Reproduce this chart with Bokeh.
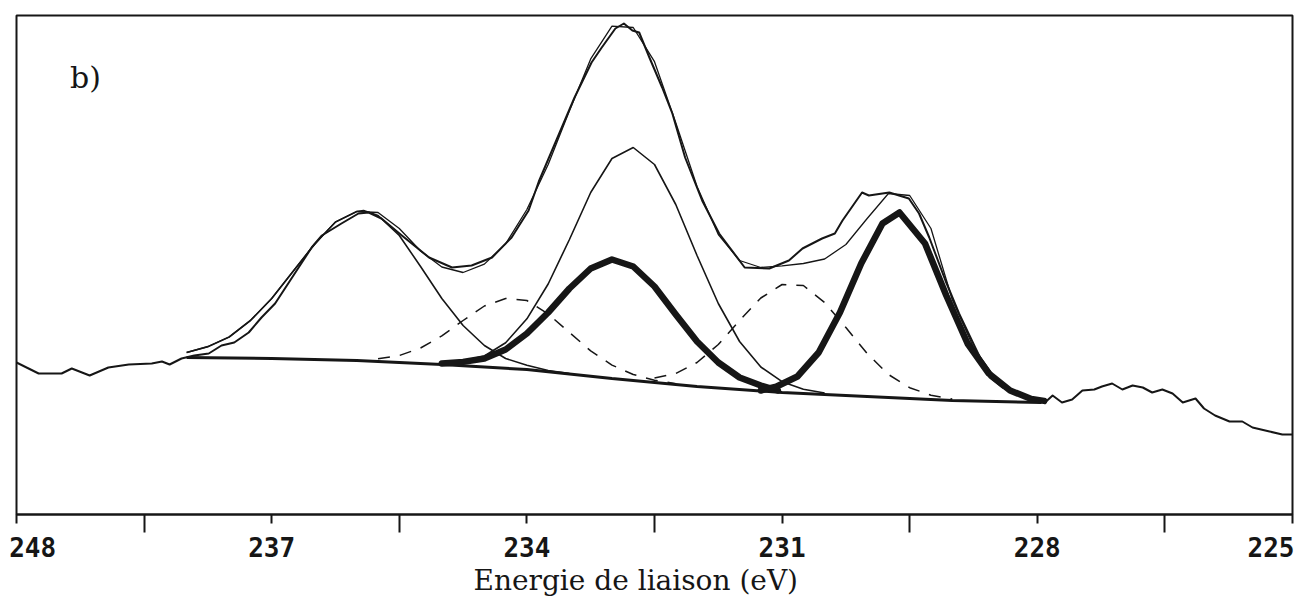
from bokeh.plotting import figure
from bokeh.models import Range1d, FixedTicker, Label, LinearAxis, Title
from bokeh.embed import file_html
from bokeh.resources import INLINE

# ---------------- data (binding energy in eV, intensity in arbitrary units) ----------------
tick_values = [240, 237, 234, 231, 228, 225]
tick_labels = ["248", "237", "234", "231", "228", "225"]
# where each tick label is centred (the two end labels sit inward, as in the original)
tick_label_positions = [239.81, 237, 234, 231, 228, 225.21]
minor_tick_values = [238.5, 235.5, 232.5, 229.5, 226.5]
x_title = "Energie de liaison (eV)"

# measured spectrum
spec_x = [240.0, 239.74, 239.47, 239.35, 239.14, 238.92, 238.68, 238.41, 238.29, 238.2,
          238.06, 237.91, 237.74, 237.59, 237.44, 237.27, 237.12, 236.96, 236.76, 236.53,
          236.41, 236.18, 235.98, 235.86, 235.71, 235.47, 235.15, 234.88, 234.65, 234.41,
          234.18, 233.98, 233.86, 233.62, 233.44, 233.24, 233.12, 232.96, 232.86, 232.76,
          232.68, 232.56, 232.41, 232.29, 232.14, 231.94, 231.74, 231.44, 231.15, 230.92,
          230.76, 230.53, 230.38, 230.29, 230.06, 229.98, 229.74, 229.51, 229.39, 229.27,
          229.08, 228.92, 228.73, 228.56, 228.41, 228.21, 228.02, 227.91, 227.82, 227.71,
          227.59, 227.47, 227.33, 227.24, 227.12, 227.0, 226.88, 226.76, 226.65, 226.53,
          226.41, 226.29, 226.14, 226.04, 225.91, 225.74, 225.59, 225.47, 225.27, 225.12, 225.0]
spec_y = [151, 140, 140, 145, 138, 146, 149, 150, 152, 149,
          155, 158, 160, 168, 171, 181, 196, 210, 236, 266,
          278, 290, 300, 301, 295, 278, 256, 246, 248, 256,
          276, 303, 332, 380, 416, 451, 466, 485, 490, 483,
          481, 456, 426, 400, 356, 313, 280, 246, 245, 253,
          265, 275, 280, 293, 321, 318, 321, 315, 300, 276,
          233, 200, 166, 136, 126, 120, 113, 111, 118, 111,
          114, 123, 124, 127, 130, 124, 128, 126, 121, 124,
          120, 111, 115, 105, 98, 92, 92, 86, 82, 79, 79]

# fit envelope
env_x = [238.0, 237.75, 237.5, 237.25, 237.0, 236.75, 236.5, 236.25, 236.0, 235.75,
         235.5, 235.25, 235.0, 234.75, 234.5, 234.25, 234.0, 233.75, 233.5, 233.25,
         233.0, 232.75, 232.5, 232.25, 232.0, 231.75, 231.5, 231.25, 231.0, 230.75,
         230.5, 230.25, 230.0, 229.75, 229.5, 229.25, 229.0, 228.75, 228.5, 228.25, 228.0]
env_y = [161, 167, 176.5, 193, 215, 242, 269, 291.5, 302, 301,
         285, 262.5, 246.5, 241, 249.4, 269.7, 304, 349, 402.7, 454.6,
         487.4, 486, 451.8, 390.8, 327, 279, 253, 246, 247.6, 250,
         254.5, 269, 295, 320, 318, 285, 214, 166, 136, 121, 114]

# background (Shirley)
base_x = [238.0, 237.0, 236.0, 235.0, 234.0, 233.0, 232.0, 231.0, 230.0, 229.0, 227.95]
base_y = [156, 155, 153, 149, 144, 135, 127, 121, 117, 113, 111]

# component A (thin)
a_x = [238.0, 237.75, 237.5, 237.25, 237.0, 236.75, 236.5, 236.25, 236.0, 235.92,
       235.75, 235.5, 235.25, 235.0, 234.75, 234.5, 234.25, 234.0, 233.75, 233.5]
a_y = [161, 166.7, 176.5, 193, 215, 242, 269, 291.5, 302, 303,
       298, 278, 247, 215, 188, 168, 155, 148.3, 143, 140]

# component B (dashed)
b_x = [235.75, 235.5, 235.25, 235.0, 234.75, 234.5, 234.25, 234.0, 233.75, 233.5,
       233.25, 233.0, 232.75, 232.5, 232.25]
b_y = [154.8, 158, 165.5, 177.6, 193, 207.5, 215, 213, 199.5, 181,
       162.6, 148.4, 139, 133.3, 129.8]

# component C (thick)
c_x = [235.0, 234.75, 234.5, 234.25, 234.0, 233.75, 233.5, 233.25, 233.0, 232.75,
       232.5, 232.25, 232.0, 231.75, 231.5, 231.25, 231.05]
c_y = [150, 151.6, 155, 164, 180, 201, 225, 245, 254, 247,
       227, 199, 172, 151, 136, 128, 123]

# component D (thin)
d_x = [235.0, 234.75, 234.5, 234.25, 234.0, 233.75, 233.5, 233.25, 233.0, 232.75,
       232.5, 232.25, 232.0, 231.75, 231.5, 231.25, 231.0, 230.75, 230.5]
d_y = [150.6, 152.6, 157.5, 170.7, 194.7, 229.5, 274, 321, 355, 366,
       349, 309, 258, 210, 172, 146.5, 131.8, 124.2, 120.5]

# component E (dashed)
e_x = [232.5, 232.25, 232.0, 231.75, 231.5, 231.25, 231.0, 230.75, 230.5, 230.25,
       230.0, 229.75, 229.5, 229.25, 229.0]
e_y = [135.5, 140, 151, 169, 193, 215.5, 229, 228, 211, 186,
       160, 139, 125.8, 118.3, 114.5]

# component F (thick)
f_x = [231.25, 231.07, 230.82, 230.57, 230.32, 230.07, 229.82, 229.62, 229.32,
       229.07, 228.82, 228.57, 228.32, 228.07, 227.92]
f_y = [123, 126.8, 137, 161, 201, 250, 290, 301, 270,
       218, 170, 140, 123, 114.5, 112.6]

# ---------------- figure ----------------
INK = "#161616"
p = figure(width=1294, height=607, output_backend="svg", toolbar_location=None,
           x_range=Range1d(240, 225), y_range=Range1d(-1, 498),
           min_border_left=16, min_border_right=2, min_border_top=15, min_border_bottom=93)
p.yaxis.visible = False
p.grid.visible = False
p.outline_line_color = INK
p.outline_line_width = 2
p.background_fill_color = "white"
p.border_fill_color = "white"

# axis 1: line and ticks only
ax = p.xaxis[0]
ax.ticker = FixedTicker(ticks=tick_values, minor_ticks=minor_tick_values)
ax.major_label_overrides = {t: "" for t in tick_values}
ax.major_label_text_font_size = "1px"
ax.major_label_standoff = 0
ax.axis_line_color = INK
ax.axis_line_width = 2
ax.major_tick_line_color = INK
ax.minor_tick_line_color = INK
ax.major_tick_line_width = 2
ax.minor_tick_line_width = 2
ax.major_tick_in = 0
ax.major_tick_out = 9
ax.minor_tick_in = 0
ax.minor_tick_out = 18

# axis 2: tick labels
ax2 = LinearAxis(ticker=FixedTicker(ticks=tick_label_positions, minor_ticks=[]))
ax2.major_label_overrides = {pos: lab for pos, lab in zip(tick_label_positions, tick_labels)}
ax2.axis_line_alpha = 0
ax2.major_tick_line_alpha = 0
ax2.minor_tick_line_alpha = 0
ax2.major_tick_in = 0
ax2.major_tick_out = 0
ax2.minor_tick_in = 0
ax2.minor_tick_out = 0
ax2.major_label_text_font = "DejaVu Sans Mono"
ax2.major_label_text_font_style = "bold"
ax2.major_label_text_font_size = "26px"
ax2.major_label_text_color = INK
ax2.major_label_standoff = 4
p.add_layout(ax2, "below")

# axis title, slightly left of centre as in the original
p.add_layout(Title(text=x_title, align="left", offset=457, standoff=4,
                   text_font="DejaVu Serif", text_font_style="normal",
                   text_font_size="28px", text_color=INK), "below")

# curves
p.line(base_x, base_y, line_color=INK, line_width=3)
p.line(b_x, b_y, line_color=INK, line_width=1.5, line_dash="12 10")
p.line(e_x, e_y, line_color=INK, line_width=1.5, line_dash="12 10")
p.line(a_x, a_y, line_color=INK, line_width=1.6)
p.line(d_x, d_y, line_color=INK, line_width=1.6)
p.line(c_x, c_y, line_color=INK, line_width=6.5, line_join="round", line_cap="round")
p.line(f_x, f_y, line_color=INK, line_width=6.5, line_join="round", line_cap="round")
p.line(env_x, env_y, line_color=INK, line_width=1.3)
p.line(spec_x, spec_y, line_color=INK, line_width=2, line_join="round")

p.add_layout(Label(x=239.37, y=436, text="b)", text_align="left", text_baseline="alphabetic",
                   text_font="DejaVu Serif", text_font_size="30px", text_color=INK))

open("out.html", "w").write(file_html(p, INLINE))
